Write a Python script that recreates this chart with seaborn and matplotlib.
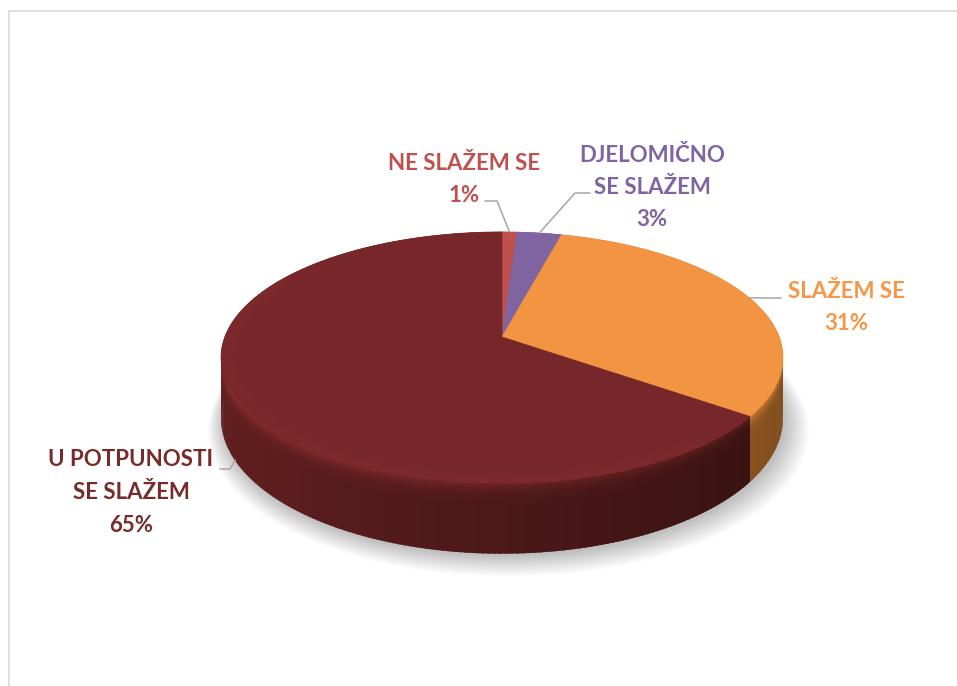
import numpy as np
import matplotlib
matplotlib.use("Agg")
import matplotlib.pyplot as plt
import seaborn as sns
from matplotlib.colors import to_rgb

# ---------------- data ----------------
categories = ["NE SLAŽEM SE", "DJELOMIČNO SE SLAŽEM", "SLAŽEM SE", "U POTPUNOSTI SE SLAŽEM"]
values = [1, 3, 31, 65]
label_lines = [["NE SLAŽEM SE"], ["DJELOMIČNO", "SE SLAŽEM"], ["SLAŽEM SE"], ["U POTPUNOSTI", "SE SLAŽEM"]]
top_colors = ["#C0504D", "#8064A2", "#F29441", "#772729"]
side_colors = ["#7A2F2D", "#4F3D66", "#B56C2A", "#4C1818"]
label_colors = ["#C0504D", "#8064A2", "#F79646", "#772C2A"]

# ---------------- layout ----------------
label_centers = [(464, 163), (652, 155), (846, 291), (131, 460)]
leader_start = [(485, 201), (590, 193), (781, 298), (220, 469)]
leader_elbow = [(497, 201), (575, 193), (765, 298), (230, 469)]
leader_z = [0.0, 0.0, 0.0, 1.0]
LINE_STEP = 32.5

sns.set_theme(style="white")
plt.rcParams["font.family"] = ["Lato", "DejaVu Sans"]

W, H = 957, 686
fig = plt.figure(figsize=(W / 100, H / 100), dpi=100)
ax = fig.add_axes([0, 0, 1, 1])
ax.set_xlim(0, W)
ax.set_ylim(H, 0)
ax.axis("off")

# perspective projection of the pie disc
CX, CY, A, B, K, D = 502.0, 337.0, 277.2, 122.2, 0.163, 58.6


def proj(phi_deg, r=1.0, z=0.0):
    p = np.radians(phi_deg)
    u = r * np.sin(p)
    v = r * np.cos(p)
    w = 1 + K * v
    return CX + A * u / w, CY - B * v / w + D * z / w


total = float(sum(values))
fracs = np.array(values) / total
ends = np.cumsum(fracs) * 360.0
starts = ends - fracs * 360.0

# frame
ax.plot([8, W], [10.5, 10.5], color="#D9D9D9", lw=1.2, solid_capstyle="butt")
ax.plot([8.5, 8.5], [10, H], color="#D9D9D9", lw=1.2, solid_capstyle="butt")

# soft shadow
phis = np.linspace(0, 360, 361)
for i in range(16):
    r = 1.0 + 0.0045 * i
    xs, ys = proj(phis, r, 1.0)
    ax.fill(xs + 2 + 0.3 * i, ys + 3 + 0.5 * i, color="black", alpha=0.016, lw=0)

# side walls, back to front (smooth vertical gradient near the rim)
zb = [0.0, 0.04, 0.08, 0.12, 0.17, 0.23, 0.30, 1.0]
zm = [1.40, 1.30, 1.20, 1.12, 1.06, 1.02, 1.0]
quads = []
for s, e, sc in zip(starts, ends, side_colors):
    n = max(2, int(np.ceil((e - s) / 1.0)))
    edges = np.linspace(s, e, n + 1)
    base = np.array(to_rgb(sc))
    for k, (a0, a1) in enumerate(zip(edges[:-1], edges[1:])):
        mid = 0.5 * (a0 + a1)
        a1x = a1 + (0.6 if k < n - 1 else 0.0)
        g = 1 + 0.3 * (-np.sin(np.radians(mid)))
        for z0, z1, m in zip(zb[:-1], zb[1:], zm):
            x0, y0 = proj(a0, 1, z0)
            x1, y1 = proj(a1x, 1, z0)
            x2, y2 = proj(a1x, 1, z1 + 0.01)
            x3, y3 = proj(a0, 1, z1 + 0.01)
            col = np.clip(base * g * m, 0, 1)
            quads.append((np.cos(np.radians(mid)), [x0, x1, x2, x3], [y0, y1, y2, y3], col))
quads.sort(key=lambda q: -q[0])
for _, xs, ys, col in quads:
    ax.fill(xs, ys, color=col, lw=0)

# top faces
for s, e, tc in zip(starts, ends, top_colors):
    arc = np.linspace(s, e, max(3, int((e - s) * 2)))
    xs, ys = proj(arc, 1, 0)
    ax.fill(np.r_[CX, xs], np.r_[CY, ys], color=tc, lw=0.5, ec=tc)

# soft bevel highlight along the front rim of the top face
for s, e, tc in zip(starts, ends, top_colors):
    lo, hi = max(s, 140), min(e, 300)
    if hi > lo:
        arc = np.linspace(lo, hi, 120)
        light = np.clip(np.array(to_rgb(tc)) * 1.22, 0, 1)
        for r, a in [(0.955, 0.10), (0.968, 0.14), (0.98, 0.18), (0.992, 0.14)]:
            xs, ys = proj(arc, r, 0)
            ax.plot(xs, ys, color=light, lw=2.5, alpha=a, solid_capstyle="round")

# labels and leader lines
for i, (lines, v) in enumerate(zip(label_lines, values)):
    cx, cy = label_centers[i]
    pct = f"{v / total * 100:.0f}%"
    for j, t in enumerate(lines + [pct]):
        ax.text(cx, cy + j * LINE_STEP, t, ha="center", va="center", fontsize=16,
                fontweight="bold", color=label_colors[i])
    mid = 0.5 * (starts[i] + ends[i])
    axx, ayy = proj(mid, 1, leader_z[i])
    sx, sy = leader_start[i]
    ex, ey = leader_elbow[i]
    ax.plot([sx, ex, axx], [sy, ey, ayy], color="#A6A6A6", lw=1.1)

fig.savefig("out.png", dpi=100, facecolor="white")
